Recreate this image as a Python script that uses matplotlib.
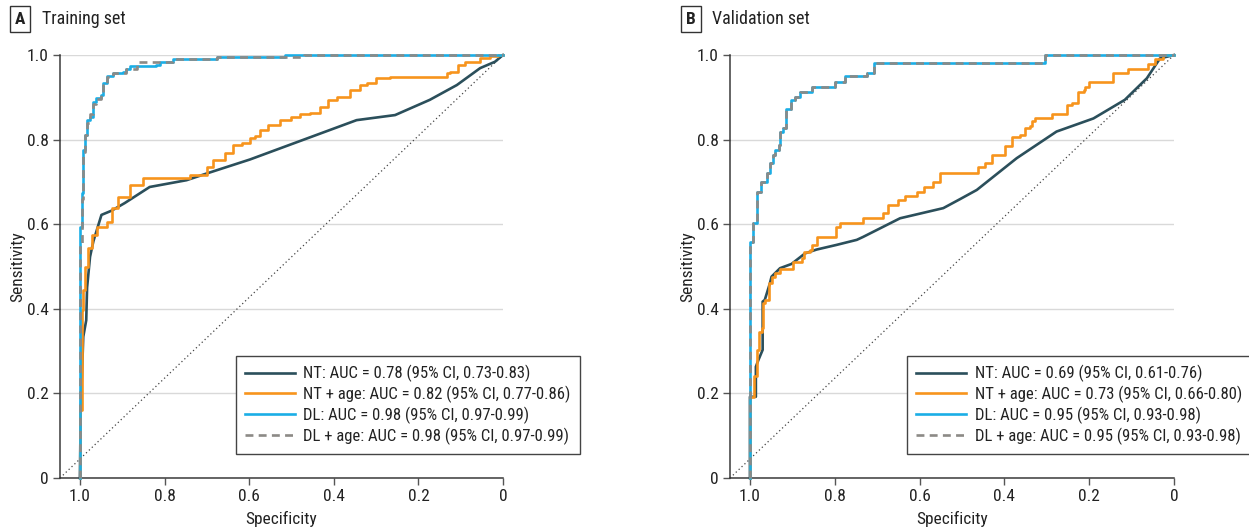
import matplotlib
matplotlib.use("Agg")
import matplotlib.pyplot as plt
from matplotlib import font_manager

# ---------------- data ----------------
# Panel A: training set  (specificity, sensitivity)
a_nt_spec = [1.0, 0.998, 0.992, 0.985, 0.983, 0.976, 0.968, 0.949, 0.925, 0.894, 0.835,
             0.748, 0.70, 0.598, 0.346, 0.255, 0.173, 0.109, 0.054, 0.019, 0.0]
a_nt_sens = [0.0, 0.16, 0.334, 0.373, 0.45, 0.523, 0.56, 0.622, 0.632, 0.65, 0.688,
             0.704, 0.72, 0.753, 0.846, 0.858, 0.894, 0.929, 0.969, 0.984, 1.0]

a_ntage_spec = [1.0, 0.996, 0.996, 0.992, 0.988, 0.98, 0.972, 0.96, 0.937, 0.925, 0.91,
                0.882, 0.85, 0.823, 0.74, 0.70, 0.685, 0.657, 0.638, 0.618, 0.598, 0.586,
                0.574, 0.556, 0.527, 0.500, 0.480, 0.456, 0.433, 0.414, 0.393, 0.362,
                0.338, 0.322, 0.299, 0.267, 0.133, 0.125, 0.106, 0.090, 0.054, 0.031,
                0.012, 0.0]
a_ntage_sens = [0.0, 0.16, 0.28, 0.397, 0.444, 0.5, 0.543, 0.574, 0.594, 0.606, 0.638,
                0.665, 0.693, 0.709, 0.709, 0.716, 0.736, 0.752, 0.768, 0.787, 0.791,
                0.803, 0.809, 0.823, 0.835, 0.846, 0.853, 0.861, 0.864, 0.878, 0.894,
                0.901, 0.917, 0.929, 0.934, 0.945, 0.948, 0.957, 0.96, 0.976, 0.984,
                0.992, 0.998, 1.0]

a_dl_spec = [1.0, 0.996, 0.992, 0.988, 0.984, 0.976, 0.969, 0.961, 0.949, 0.945, 0.937,
             0.922, 0.898, 0.890, 0.882, 0.819, 0.811, 0.780, 0.676, 0.515, 0.0]
a_dl_sens = [0.0, 0.594, 0.673, 0.775, 0.81, 0.846, 0.854, 0.89, 0.898, 0.905, 0.933,
             0.95, 0.957, 0.96, 0.968, 0.974, 0.976, 0.984, 0.99, 0.995, 1.0]

a_dlage_spec = [1.0, 0.995, 0.992, 0.988, 0.984, 0.976, 0.969, 0.961, 0.949, 0.945, 0.937,
                0.922, 0.890, 0.866, 0.780, 0.676, 0.47, 0.0]
a_dlage_sens = [0.0, 0.55, 0.66, 0.77, 0.81, 0.84, 0.86, 0.885, 0.895, 0.905, 0.93,
                0.948, 0.957, 0.968, 0.984, 0.99, 0.995, 1.0]

# Panel B: validation set
b_nt_spec = [1.0, 1.0, 0.986, 0.986, 0.980, 0.970, 0.970, 0.965, 0.953, 0.949, 0.929,
             0.902, 0.870, 0.843, 0.796, 0.748, 0.733, 0.646, 0.544, 0.505, 0.465, 0.371,
             0.277, 0.190, 0.116, 0.064, 0.033, 0.0]
b_nt_sens = [0.0, 0.192, 0.192, 0.263, 0.279, 0.303, 0.417, 0.421, 0.46, 0.476, 0.496,
             0.506, 0.531, 0.540, 0.551, 0.563, 0.570, 0.614, 0.638, 0.659, 0.681, 0.756,
             0.819, 0.850, 0.894, 0.945, 0.992, 1.0]

b_ntage_spec = [1.0, 0.991, 0.984, 0.978, 0.972, 0.970, 0.965, 0.954, 0.948, 0.941, 0.929,
                0.898, 0.878, 0.873, 0.858, 0.854, 0.841, 0.796, 0.788, 0.734, 0.686,
                0.675, 0.650, 0.634, 0.607, 0.590, 0.568, 0.552, 0.462, 0.446, 0.428,
                0.399, 0.383, 0.363, 0.351, 0.340, 0.336, 0.328, 0.288, 0.253, 0.241,
                0.226, 0.212, 0.210, 0.200, 0.143, 0.108, 0.061, 0.045, 0.025, 0.0]
b_ntage_sens = [0.0, 0.192, 0.24, 0.303, 0.346, 0.355, 0.413, 0.421, 0.46, 0.475, 0.484,
                0.493, 0.511, 0.52, 0.535, 0.54, 0.551, 0.57, 0.594, 0.604, 0.614, 0.626,
                0.645, 0.657, 0.667, 0.677, 0.689, 0.70, 0.72, 0.736, 0.744, 0.764, 0.785,
                0.807, 0.811, 0.827, 0.831, 0.843, 0.85, 0.861, 0.882, 0.886, 0.913,
                0.917, 0.925, 0.937, 0.958, 0.968, 0.979, 0.99, 1.0]

b_dl_spec = [1.0, 0.992, 0.983, 0.975, 0.960, 0.953, 0.946, 0.941, 0.931, 0.929, 0.921,
             0.915, 0.903, 0.894, 0.882, 0.854, 0.80, 0.776, 0.725, 0.708, 0.304, 0.0]
b_dl_sens = [0.0, 0.559, 0.602, 0.677, 0.70, 0.72, 0.744, 0.764, 0.775, 0.787, 0.819,
             0.827, 0.872, 0.894, 0.901, 0.913, 0.925, 0.937, 0.95, 0.957, 0.98, 1.0]

b_dlage_spec = list(b_dl_spec)
b_dlage_sens = list(b_dl_sens)

legend_a = ["NT: AUC = 0.78 (95% CI, 0.73-0.83)",
            "NT + age: AUC = 0.82 (95% CI, 0.77-0.86)",
            "DL: AUC = 0.98 (95% CI, 0.97-0.99)",
            "DL + age: AUC = 0.98 (95% CI, 0.97-0.99)"]
legend_b = ["NT: AUC = 0.69 (95% CI, 0.61-0.76)",
            "NT + age: AUC = 0.73 (95% CI, 0.66-0.80)",
            "DL: AUC = 0.95 (95% CI, 0.93-0.98)",
            "DL + age: AUC = 0.95 (95% CI, 0.93-0.98)"]
panel_letters = ["A", "B"]
panel_titles = ["Training set", "Validation set"]
x_ticks = [1.0, 0.8, 0.6, 0.4, 0.2, 0.0]
x_tick_labels = ["1.0", "0.8", "0.6", "0.4", "0.2", "0"]
y_ticks = [0, 0.2, 0.4, 0.6, 0.8, 1.0]
y_tick_labels = ["0", "0.2", "0.4", "0.6", "0.8", "1.0"]

# ---------------- font: look for a condensed / narrow sans ----------------
prefs = ["Liberation Sans Narrow", "Roboto Condensed", "Open Sans Condensed",
         "Noto Sans Condensed", "DejaVu Sans Condensed", "Noto Sans", "DejaVu Sans"]
cands = []
for f in font_manager.fontManager.ttflist:
    fn = f.fname.lower()
    nm = f.name.lower()
    is_cond = ("narrow" in fn or "condensed" in fn or "narrow" in nm or "condensed" in nm
               or str(f.stretch) in ("condensed", "semi-condensed", "500", "400"))
    if not is_cond:
        continue
    if "extra" in str(f.stretch) or "ultra" in str(f.stretch):
        continue
    if "extracondensed" in fn or "semicondensed" in fn:
        continue
    if f.style != "normal":
        continue
    w = f.weight if isinstance(f.weight, int) else {"normal": 400, "regular": 400}.get(str(f.weight), 500)
    if w != 400:
        continue
    if "mono" in nm or "serif" in nm and "sans" not in nm:
        continue
    rank = len(prefs)
    for k, p in enumerate(prefs):
        if nm.startswith(p.lower()):
            rank = k
            break
    cands.append((rank, f))
cands.sort(key=lambda t: t[0])
if cands:
    chosen = cands[0][1]
    font_manager.fontManager.addfont(chosen.fname)
    plt.rcParams["font.family"] = [chosen.name, "DejaVu Sans"]
    plt.rcParams["font.stretch"] = chosen.stretch
    narrow = True
else:
    plt.rcParams["font.family"] = ["Liberation Sans", "DejaVu Sans"]
    narrow = False

fs_tick = 12.5 if narrow else 11.5
fs_leg = 12 if narrow else 10.5
fs_lab = 12.5 if narrow else 11.5

C_NT = "#2b4f5b"
C_NTAGE = "#f7941d"
C_DL = "#1aaee6"
C_DLAGE = "#8c8a86"

fig = plt.figure(figsize=(12.49, 5.31), dpi=100)
positions = [[60 / 1249, 53 / 531, 443 / 1249, 423 / 531],
             [730 / 1249, 53 / 531, 444 / 1249, 423 / 531]]
panels = [
    (a_nt_spec, a_nt_sens, a_ntage_spec, a_ntage_sens, a_dl_spec, a_dl_sens,
     a_dlage_spec, a_dlage_sens, legend_a),
    (b_nt_spec, b_nt_sens, b_ntage_spec, b_ntage_sens, b_dl_spec, b_dl_sens,
     b_dlage_spec, b_dlage_sens, legend_b),
]
label_x = [(20, 42), (691, 712)]
leg_anchor = [(0.397, 0.289), (0.399, 0.289)]

for i, (pos, p) in enumerate(zip(positions, panels)):
    ax = fig.add_axes(pos)
    ntx, nty, nax, nay, dlx, dly, dax, day, labels = p
    ax.set_xlim(1.047, 0.0)
    ax.set_ylim(0.0, 1.0)
    ax.set_yticks(y_ticks)
    ax.set_yticklabels(y_tick_labels)
    ax.set_xticks(x_ticks)
    ax.set_xticklabels(x_tick_labels)
    ax.grid(axis="y", color="#d9d9d9", lw=1.0, zorder=0)
    ax.set_axisbelow(True)
    for s in ["top", "right"]:
        ax.spines[s].set_visible(False)
    for s in ["left", "bottom"]:
        ax.spines[s].set_color("#3a3a3a")
        ax.spines[s].set_linewidth(1.1)
    ax.tick_params(axis="both", length=5, width=1, color="#555555",
                   labelsize=fs_tick, labelcolor="#222222", pad=3)

    ax.plot([0, 1], [0, 1], transform=ax.transAxes, color="#444444",
            lw=0.9, ls=(0, (1, 2.2)), zorder=1)
    l1, = ax.plot(ntx, nty, color=C_NT, lw=1.9, zorder=3, clip_on=False)
    l2, = ax.plot(nax, nay, color=C_NTAGE, lw=1.9, zorder=3, drawstyle="steps-pre",
                  clip_on=False)
    l3, = ax.plot(dlx, dly, color=C_DL, lw=1.9, zorder=4, drawstyle="steps-pre",
                  clip_on=False)
    l4, = ax.plot(dax, day, color=C_DLAGE, lw=1.9, ls=(0, (3, 2)), zorder=5,
                  drawstyle="steps-pre", clip_on=False)

    ax.set_xlabel("Specificity", fontsize=fs_lab, color="#222222")
    ax.set_ylabel("Sensitivity", fontsize=fs_lab, color="#222222")
    ax.xaxis.set_label_coords(0.5, -0.078)
    ax.yaxis.set_label_coords(-0.079, 0.5)

    leg = ax.legend([l1, l2, l3, l4], labels, loc="upper left",
                    bbox_to_anchor=leg_anchor[i], borderaxespad=0, fontsize=fs_leg,
                    frameon=True, fancybox=False, handlelength=3.0,
                    handletextpad=0.5, labelspacing=0.22, borderpad=0.55,
                    framealpha=1)
    leg.get_frame().set_edgecolor("#444444")
    leg.get_frame().set_linewidth(1.0)
    for t in leg.get_texts():
        t.set_color("#222222")

    lx, tx = label_x[i]
    fig.text(lx / 1249, 1 - 19 / 531, panel_letters[i], fontsize=12.5,
             fontweight="bold", ha="center", va="center", color="#222222",
             bbox=dict(boxstyle="square,pad=0.3", fc="white", ec="#333333", lw=1.0))
    fig.text(tx / 1249, 1 - 19 / 531, panel_titles[i], fontsize=13,
             ha="left", va="center", color="#222222")

fig.savefig("out.png", dpi=100)
